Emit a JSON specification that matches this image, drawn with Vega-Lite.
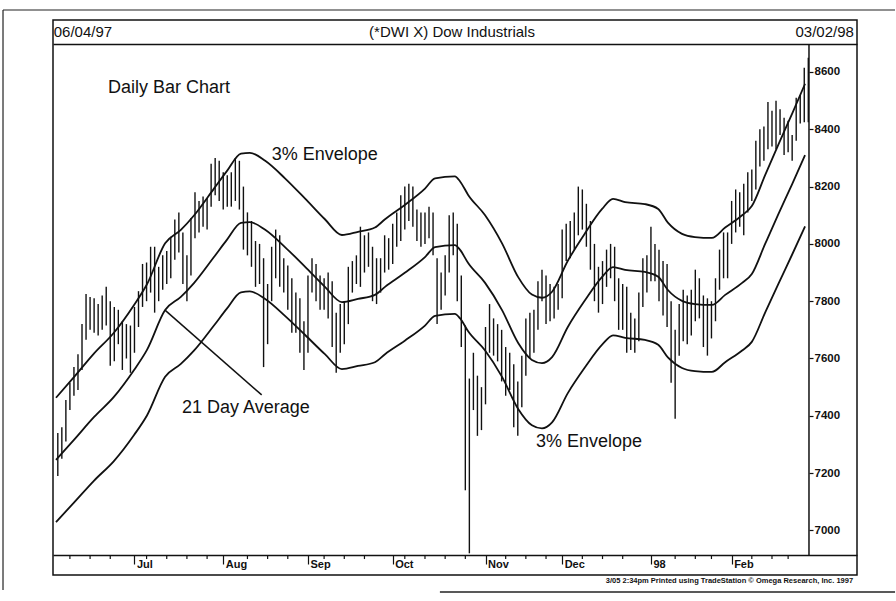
{
  "$schema": "https://vega.github.io/schema/vega-lite/v6.json",
  "width": 804,
  "height": 555,
  "autosize": {"type": "none"},
  "padding": {"left": 53, "top": 20, "right": 39, "bottom": 26},
  "background": "white",
  "config": {
    "view": {"stroke": "#111", "strokeWidth": 1.5},
    "font": "Liberation Sans",
    "text": {"color": "#111"},
    "axis": {"labelOverlap": false, "labelFlush": false}
  },
  "datasets": {
    "bars": [
      {"date":"1997-06-04","d":0,"hi":7340,"lo":7190},{"date":"1997-06-05","d":1,"hi":7360,"lo":7250},{"date":"1997-06-06","d":2,"hi":7455,"lo":7310},{"date":"1997-06-09","d":3,"hi":7515,"lo":7420},{"date":"1997-06-10","d":4,"hi":7570,"lo":7470},{"date":"1997-06-11","d":5,"hi":7615,"lo":7490},{"date":"1997-06-12","d":6,"hi":7720,"lo":7560},{"date":"1997-06-13","d":7,"hi":7825,"lo":7665},{"date":"1997-06-16","d":8,"hi":7815,"lo":7700},{"date":"1997-06-17","d":9,"hi":7810,"lo":7690},{"date":"1997-06-18","d":10,"hi":7790,"lo":7680},{"date":"1997-06-19","d":11,"hi":7820,"lo":7700},{"date":"1997-06-20","d":12,"hi":7850,"lo":7715},{"date":"1997-06-23","d":13,"hi":7800,"lo":7575},{"date":"1997-06-24","d":14,"hi":7780,"lo":7590},{"date":"1997-06-25","d":15,"hi":7770,"lo":7650},{"date":"1997-06-26","d":16,"hi":7730,"lo":7560},{"date":"1997-06-27","d":17,"hi":7720,"lo":7600},{"date":"1997-06-30","d":18,"hi":7715,"lo":7550},
      {"date":"1997-07-01","d":19,"hi":7780,"lo":7620},{"date":"1997-07-02","d":20,"hi":7835,"lo":7710},{"date":"1997-07-03","d":21,"hi":7930,"lo":7780},{"date":"1997-07-07","d":22,"hi":7935,"lo":7800},{"date":"1997-07-08","d":23,"hi":7990,"lo":7830},{"date":"1997-07-09","d":24,"hi":7990,"lo":7760},{"date":"1997-07-10","d":25,"hi":7920,"lo":7800},{"date":"1997-07-11","d":26,"hi":7960,"lo":7840},{"date":"1997-07-14","d":27,"hi":7975,"lo":7860},{"date":"1997-07-15","d":28,"hi":8025,"lo":7880},{"date":"1997-07-16","d":29,"hi":8085,"lo":7945},{"date":"1997-07-17","d":30,"hi":8110,"lo":7970},{"date":"1997-07-18","d":31,"hi":8040,"lo":7860},{"date":"1997-07-21","d":32,"hi":7960,"lo":7800},{"date":"1997-07-22","d":33,"hi":8090,"lo":7890},{"date":"1997-07-23","d":34,"hi":8180,"lo":8020},{"date":"1997-07-24","d":35,"hi":8150,"lo":8040},{"date":"1997-07-25","d":36,"hi":8165,"lo":8060},{"date":"1997-07-28","d":37,"hi":8160,"lo":8050},{"date":"1997-07-29","d":38,"hi":8280,"lo":8130},{"date":"1997-07-30","d":39,"hi":8300,"lo":8170},{"date":"1997-07-31","d":40,"hi":8290,"lo":8150},
      {"date":"1997-08-01","d":41,"hi":8250,"lo":8120},{"date":"1997-08-04","d":42,"hi":8240,"lo":8130},{"date":"1997-08-05","d":43,"hi":8250,"lo":8130},{"date":"1997-08-06","d":44,"hi":8300,"lo":8150},{"date":"1997-08-07","d":45,"hi":8290,"lo":8120},{"date":"1997-08-08","d":46,"hi":8200,"lo":7980},{"date":"1997-08-11","d":47,"hi":8110,"lo":7960},{"date":"1997-08-12","d":48,"hi":8080,"lo":7920},{"date":"1997-08-13","d":49,"hi":8010,"lo":7850},{"date":"1997-08-14","d":50,"hi":8000,"lo":7860},{"date":"1997-08-15","d":51,"hi":7950,"lo":7570},{"date":"1997-08-18","d":52,"hi":7860,"lo":7650},{"date":"1997-08-19","d":53,"hi":7990,"lo":7800},{"date":"1997-08-20","d":54,"hi":8050,"lo":7880},{"date":"1997-08-21","d":55,"hi":8030,"lo":7850},{"date":"1997-08-22","d":56,"hi":7950,"lo":7830},{"date":"1997-08-25","d":57,"hi":7925,"lo":7770},{"date":"1997-08-26","d":58,"hi":7880,"lo":7690},{"date":"1997-08-27","d":59,"hi":7830,"lo":7690},{"date":"1997-08-28","d":60,"hi":7810,"lo":7620},{"date":"1997-08-29","d":61,"hi":7730,"lo":7560},
      {"date":"1997-09-02","d":62,"hi":7890,"lo":7620},{"date":"1997-09-03","d":63,"hi":7950,"lo":7830},{"date":"1997-09-04","d":64,"hi":7930,"lo":7800},{"date":"1997-09-05","d":65,"hi":7890,"lo":7770},{"date":"1997-09-08","d":66,"hi":7880,"lo":7770},{"date":"1997-09-09","d":67,"hi":7900,"lo":7740},{"date":"1997-09-10","d":68,"hi":7870,"lo":7640},{"date":"1997-09-11","d":69,"hi":7760,"lo":7550},{"date":"1997-09-12","d":70,"hi":7790,"lo":7620},{"date":"1997-09-15","d":71,"hi":7800,"lo":7650},{"date":"1997-09-16","d":72,"hi":7920,"lo":7720},{"date":"1997-09-17","d":73,"hi":7940,"lo":7830},{"date":"1997-09-18","d":74,"hi":7960,"lo":7860},{"date":"1997-09-19","d":75,"hi":8060,"lo":7850},{"date":"1997-09-22","d":76,"hi":8030,"lo":7900},{"date":"1997-09-23","d":77,"hi":8040,"lo":7920},{"date":"1997-09-24","d":78,"hi":7990,"lo":7800},{"date":"1997-09-25","d":79,"hi":7950,"lo":7790},{"date":"1997-09-26","d":80,"hi":7950,"lo":7830},{"date":"1997-09-29","d":81,"hi":8030,"lo":7900},{"date":"1997-09-30","d":82,"hi":8020,"lo":7910},
      {"date":"1997-10-01","d":83,"hi":8070,"lo":7930},{"date":"1997-10-02","d":84,"hi":8110,"lo":7990},{"date":"1997-10-03","d":85,"hi":8170,"lo":8010},{"date":"1997-10-06","d":86,"hi":8200,"lo":8050},{"date":"1997-10-07","d":87,"hi":8210,"lo":8080},{"date":"1997-10-08","d":88,"hi":8200,"lo":8060},{"date":"1997-10-09","d":89,"hi":8120,"lo":8010},{"date":"1997-10-10","d":90,"hi":8110,"lo":7990},{"date":"1997-10-13","d":91,"hi":8110,"lo":8000},{"date":"1997-10-14","d":92,"hi":8130,"lo":8020},{"date":"1997-10-15","d":93,"hi":8110,"lo":7960},{"date":"1997-10-16","d":94,"hi":7950,"lo":7720},{"date":"1997-10-17","d":95,"hi":7900,"lo":7770},{"date":"1997-10-20","d":96,"hi":7960,"lo":7820},{"date":"1997-10-21","d":97,"hi":8100,"lo":7900},{"date":"1997-10-22","d":98,"hi":8110,"lo":7960},{"date":"1997-10-23","d":99,"hi":8070,"lo":7800},{"date":"1997-10-24","d":100,"hi":7890,"lo":7640},{"date":"1997-10-27","d":101,"hi":7715,"lo":7140},{"date":"1997-10-28","d":102,"hi":7530,"lo":6920},{"date":"1997-10-29","d":103,"hi":7620,"lo":7420},{"date":"1997-10-30","d":104,"hi":7540,"lo":7330},{"date":"1997-10-31","d":105,"hi":7500,"lo":7350},
      {"date":"1997-11-03","d":106,"hi":7710,"lo":7440},{"date":"1997-11-04","d":107,"hi":7790,"lo":7620},{"date":"1997-11-05","d":108,"hi":7740,"lo":7610},{"date":"1997-11-06","d":109,"hi":7720,"lo":7590},{"date":"1997-11-07","d":110,"hi":7700,"lo":7520},{"date":"1997-11-10","d":111,"hi":7640,"lo":7470},{"date":"1997-11-11","d":112,"hi":7620,"lo":7490},{"date":"1997-11-12","d":113,"hi":7580,"lo":7360},{"date":"1997-11-13","d":114,"hi":7520,"lo":7330},{"date":"1997-11-14","d":115,"hi":7610,"lo":7430},{"date":"1997-11-17","d":116,"hi":7740,"lo":7540},{"date":"1997-11-18","d":117,"hi":7760,"lo":7600},{"date":"1997-11-19","d":118,"hi":7770,"lo":7620},{"date":"1997-11-20","d":119,"hi":7870,"lo":7700},{"date":"1997-11-21","d":120,"hi":7910,"lo":7800},{"date":"1997-11-24","d":121,"hi":7890,"lo":7720},{"date":"1997-11-25","d":122,"hi":7860,"lo":7730},{"date":"1997-11-26","d":123,"hi":7850,"lo":7740},{"date":"1997-11-28","d":124,"hi":7860,"lo":7770},
      {"date":"1997-12-01","d":125,"hi":8050,"lo":7810},{"date":"1997-12-02","d":126,"hi":8070,"lo":7940},{"date":"1997-12-03","d":127,"hi":8080,"lo":7950},{"date":"1997-12-04","d":128,"hi":8110,"lo":7980},{"date":"1997-12-05","d":129,"hi":8200,"lo":8030},{"date":"1997-12-08","d":130,"hi":8190,"lo":8050},{"date":"1997-12-09","d":131,"hi":8140,"lo":7990},{"date":"1997-12-10","d":132,"hi":8080,"lo":7910},{"date":"1997-12-11","d":133,"hi":8000,"lo":7800},{"date":"1997-12-12","d":134,"hi":7920,"lo":7760},{"date":"1997-12-15","d":135,"hi":7940,"lo":7790},{"date":"1997-12-16","d":136,"hi":7980,"lo":7850},{"date":"1997-12-17","d":137,"hi":8000,"lo":7880},{"date":"1997-12-18","d":138,"hi":7990,"lo":7800},{"date":"1997-12-19","d":139,"hi":7880,"lo":7700},{"date":"1997-12-22","d":140,"hi":7860,"lo":7700},{"date":"1997-12-23","d":141,"hi":7850,"lo":7620},{"date":"1997-12-24","d":142,"hi":7760,"lo":7630},{"date":"1997-12-26","d":143,"hi":7740,"lo":7620},{"date":"1997-12-29","d":144,"hi":7830,"lo":7660},{"date":"1997-12-30","d":145,"hi":7950,"lo":7780},{"date":"1997-12-31","d":146,"hi":7960,"lo":7830},
      {"date":"1998-01-02","d":147,"hi":8060,"lo":7870},{"date":"1998-01-05","d":148,"hi":8000,"lo":7870},{"date":"1998-01-06","d":149,"hi":7980,"lo":7800},{"date":"1998-01-07","d":150,"hi":7940,"lo":7750},{"date":"1998-01-08","d":151,"hi":7930,"lo":7710},{"date":"1998-01-09","d":152,"hi":7800,"lo":7515},{"date":"1998-01-12","d":153,"hi":7700,"lo":7390},{"date":"1998-01-13","d":154,"hi":7790,"lo":7610},{"date":"1998-01-14","d":155,"hi":7840,"lo":7660},{"date":"1998-01-15","d":156,"hi":7820,"lo":7650},{"date":"1998-01-16","d":157,"hi":7840,"lo":7680},{"date":"1998-01-20","d":158,"hi":7910,"lo":7730},{"date":"1998-01-21","d":159,"hi":7880,"lo":7740},{"date":"1998-01-22","d":160,"hi":7820,"lo":7640},{"date":"1998-01-23","d":161,"hi":7810,"lo":7610},{"date":"1998-01-26","d":162,"hi":7800,"lo":7670},{"date":"1998-01-27","d":163,"hi":7880,"lo":7730},{"date":"1998-01-28","d":164,"hi":7980,"lo":7840},{"date":"1998-01-29","d":165,"hi":8040,"lo":7880},{"date":"1998-01-30","d":166,"hi":8040,"lo":7880},
      {"date":"1998-02-02","d":167,"hi":8150,"lo":8000},{"date":"1998-02-03","d":168,"hi":8190,"lo":8040},{"date":"1998-02-04","d":169,"hi":8180,"lo":8060},{"date":"1998-02-05","d":170,"hi":8210,"lo":8030},{"date":"1998-02-06","d":171,"hi":8250,"lo":8110},{"date":"1998-02-09","d":172,"hi":8260,"lo":8150},{"date":"1998-02-10","d":173,"hi":8360,"lo":8190},{"date":"1998-02-11","d":174,"hi":8400,"lo":8270},{"date":"1998-02-12","d":175,"hi":8410,"lo":8290},{"date":"1998-02-13","d":176,"hi":8495,"lo":8330},{"date":"1998-02-17","d":177,"hi":8465,"lo":8340},{"date":"1998-02-18","d":178,"hi":8500,"lo":8330},{"date":"1998-02-19","d":179,"hi":8470,"lo":8380},{"date":"1998-02-20","d":180,"hi":8440,"lo":8310},{"date":"1998-02-23","d":181,"hi":8430,"lo":8320},{"date":"1998-02-24","d":182,"hi":8380,"lo":8290},{"date":"1998-02-25","d":183,"hi":8510,"lo":8360},{"date":"1998-02-26","d":184,"hi":8520,"lo":8420},{"date":"1998-02-27","d":185,"hi":8615,"lo":8425},
      {"date":"1998-03-02","d":186,"hi":8650,"lo":8425}
    ],
    "env": [
      {"d":-0.45,"ma":7246,"up":7463,"dn":7029},{"d":4.0,"ma":7316,"up":7535,"dn":7097},{"d":9.0,"ma":7396,"up":7618,"dn":7174},{"d":13.9,"ma":7466,"up":7690,"dn":7242},{"d":18.9,"ma":7560,"up":7787,"dn":7333},{"d":22.1,"ma":7630,"up":7859,"dn":7401},{"d":26.6,"ma":7769,"up":8002,"dn":7536},{"d":30.5,"ma":7815,"up":8049,"dn":7581},{"d":33.8,"ma":7864,"up":8100,"dn":7628},{"d":38.7,"ma":7954,"up":8193,"dn":7715},{"d":41.9,"ma":8014,"up":8254,"dn":7774},{"d":45.4,"ma":8073,"up":8315,"dn":7831},{"d":47.6,"ma":8076,"up":8318,"dn":7834},{"d":51.4,"ma":8049,"up":8290,"dn":7808},{"d":56.3,"ma":7989,"up":8229,"dn":7749},{"d":61.3,"ma":7920,"up":8158,"dn":7682},{"d":66.2,"ma":7850,"up":8086,"dn":7615},{"d":70.4,"ma":7797,"up":8031,"dn":7563},{"d":74.4,"ma":7808,"up":8042,"dn":7574},{"d":78.6,"ma":7822,"up":8057,"dn":7587},{"d":81.1,"ma":7850,"up":8086,"dn":7615},{"d":86.0,"ma":7899,"up":8136,"dn":7662},{"d":91.0,"ma":7954,"up":8193,"dn":7715},{"d":93.5,"ma":7989,"up":8229,"dn":7749},{"d":98.4,"ma":7996,"up":8236,"dn":7756},{"d":99.7,"ma":7979,"up":8218,"dn":7740},{"d":101.7,"ma":7933,"up":8171,"dn":7695},{"d":105.9,"ma":7864,"up":8100,"dn":7628},{"d":110.1,"ma":7769,"up":8002,"dn":7536},{"d":114.1,"ma":7654,"up":7884,"dn":7424},{"d":117.5,"ma":7595,"up":7823,"dn":7367},{"d":120.0,"ma":7584,"up":7812,"dn":7356},{"d":122.5,"ma":7605,"up":7833,"dn":7377},{"d":126.4,"ma":7710,"up":7941,"dn":7479},{"d":130.7,"ma":7804,"up":8038,"dn":7570},{"d":134.9,"ma":7885,"up":8122,"dn":7648},{"d":137.6,"ma":7919,"up":8157,"dn":7681},{"d":140.6,"ma":7909,"up":8146,"dn":7672},{"d":145.5,"ma":7902,"up":8139,"dn":7665},{"d":148.8,"ma":7885,"up":8122,"dn":7648},{"d":151.2,"ma":7839,"up":8074,"dn":7604},{"d":154.7,"ma":7801,"up":8035,"dn":7567},{"d":157.9,"ma":7790,"up":8024,"dn":7556},{"d":162.1,"ma":7787,"up":8021,"dn":7553},{"d":165.4,"ma":7822,"up":8057,"dn":7587},{"d":169.6,"ma":7864,"up":8100,"dn":7628},{"d":172.0,"ma":7895,"up":8132,"dn":7658},{"d":175.3,"ma":8000,"up":8240,"dn":7760},{"d":178.5,"ma":8101,"up":8344,"dn":7858},{"d":182.0,"ma":8209,"up":8455,"dn":7963},{"d":185.2,"ma":8310,"up":8559,"dn":8061}
    ],
    "wk": [
      {"d":3},{"d":8},{"d":13},{"d":22},{"d":27},{"d":32},{"d":37},{"d":47},{"d":52},{"d":57},{"d":66},{"d":71},{"d":76},{"d":86},{"d":91},{"d":96},{"d":101},{"d":111},{"d":116},{"d":121},{"d":130},{"d":135},{"d":140},{"d":153},{"d":158},{"d":162},{"d":172},{"d":177},{"d":181}
    ],
    "one": [{}]
  },
  "layer": [
    {
      "data": {"name": "bars"},
      "mark": {"type": "rule", "color": "#111", "strokeWidth": 1.4},
      "encoding": {
        "x": {
          "field": "d", "type": "quantitative", "title": null,
          "scale": {"domain": [-1.19, 198.07], "nice": false, "zero": false},
          "axis": {
            "orient": "bottom", "offset": -20, "title": null,
            "values": [19,41,62,83,106,125,147,167],
            "domain": true, "domainColor": "#111", "domainWidth": 1.5,
            "ticks": true, "tickColor": "#111", "tickWidth": 1.2, "tickSize": 9,
            "labelExpr": "datum.value == 19 ? 'Jul' : datum.value == 41 ? 'Aug' : datum.value == 62 ? 'Sep' : datum.value == 83 ? 'Oct' : datum.value == 106 ? 'Nov' : datum.value == 125 ? 'Dec' : datum.value == 147 ? '98' : 'Feb'",
            "labelAlign": "left", "labelBaseline": "top", "labelOffset": 2, "labelPadding": -6,
            "labelFont": "Liberation Sans", "labelFontSize": 11, "labelFontWeight": "bold", "labelColor": "#111",
            "labelOverlap": false, "labelFlush": false, "grid": false
          }
        },
        "y": {
          "field": "hi", "type": "quantitative", "title": null,
          "scale": {"domain": [6844.3, 8781.5], "nice": false, "zero": false},
          "axis": {
            "orient": "right", "offset": -48, "title": null,
            "values": [7000,7200,7400,7600,7800,8000,8200,8400,8600,8697.7],
            "format": "d",
            "domain": false,
            "ticks": true, "tickColor": "#111", "tickWidth": 1.2, "tickSize": 4,
            "tickOpacity": {"condition": {"test": "datum.value > 8650", "value": 0}, "value": 1},
            "grid": true, "gridColor": "#111", "gridWidth": 1.5,
            "gridOpacity": {"condition": {"test": "datum.value > 8650", "value": 1}, "value": 0},
            "labelExpr": "datum.value > 8650 ? '' : datum.label",
            "labelFont": "Liberation Sans", "labelFontSize": 11.5, "labelFontWeight": "bold", "labelColor": "#111", "labelPadding": 1,
            "labelOverlap": false, "labelFlush": false
          }
        },
        "y2": {"field": "lo"}
      }
    },
    {
      "data": {"name": "wk"},
      "mark": {"type": "rule", "color": "#111", "strokeWidth": 1.2},
      "encoding": {"x": {"field": "d", "type": "quantitative", "title": null}, "y": {"datum": 6914, "title": null}, "y2": {"datum": 6900}}
    },
    {
      "data": {"name": "env"},
      "mark": {"type": "line", "color": "#111", "strokeWidth": 1.8, "interpolate": "monotone"},
      "encoding": {"x": {"field": "d", "type": "quantitative", "title": null}, "y": {"field": "ma", "type": "quantitative", "title": null}}
    },
    {
      "data": {"name": "env"},
      "mark": {"type": "line", "color": "#111", "strokeWidth": 1.8, "interpolate": "monotone"},
      "encoding": {"x": {"field": "d", "type": "quantitative", "title": null}, "y": {"field": "up", "type": "quantitative", "title": null}}
    },
    {
      "data": {"name": "env"},
      "mark": {"type": "line", "color": "#111", "strokeWidth": 1.8, "interpolate": "monotone"},
      "encoding": {"x": {"field": "d", "type": "quantitative", "title": null}, "y": {"field": "dn", "type": "quantitative", "title": null}}
    },
    {
      "data": {"name": "one"},
      "mark": {"type": "rule", "color": "#111", "strokeWidth": 1.5},
      "encoding": {"x": {"datum": 26.57, "title": null}, "y": {"datum": 7769, "title": null}, "x2": {"datum": 50.53}, "y2": {"datum": 7473}}
    },
    {
      "data": {"name": "one"},
      "mark": {"type": "rule", "color": "#111", "strokeWidth": 1.5},
      "encoding": {"x": {"datum": 186.17, "title": null}, "y": {"datum": 6914, "title": null}, "y2": {"datum": 8697.7}}
    },
    {
      "data": {"name": "one"},
      "mark": {"type": "rule", "color": "#222", "strokeWidth": 1.2},
      "encoding": {"x": {"datum": -13.58, "title": null}, "y": {"datum": 8816.4, "title": null}, "x2": {"datum": 207.5}}
    },
    {
      "data": {"name": "one"},
      "mark": {"type": "rule", "color": "#222", "strokeWidth": 1.2},
      "encoding": {"x": {"datum": -13.58, "title": null}, "y": {"datum": 8816.4, "title": null}, "y2": {"datum": 6792}}
    },
    {
      "data": {"name": "one"},
      "mark": {"type": "rule", "color": "#222", "strokeWidth": 1.5},
      "encoding": {"x": {"datum": 94.7, "title": null}, "y": {"datum": 6785, "title": null}, "x2": {"datum": 207.5}}
    },
    {
      "data": {"name": "one"},
      "mark": {"type": "text", "align": "left", "baseline": "middle", "fontSize": 18, "font": "Liberation Sans"},
      "encoding": {"x": {"datum": 12.44, "title": null}, "y": {"datum": 8544, "title": null}, "text": {"value": "Daily Bar Chart"}}
    },
    {
      "data": {"name": "one"},
      "mark": {"type": "text", "align": "left", "baseline": "middle", "fontSize": 18, "font": "Liberation Sans"},
      "encoding": {"x": {"datum": 53.0, "title": null}, "y": {"datum": 8310, "title": null}, "text": {"value": "3% Envelope"}}
    },
    {
      "data": {"name": "one"},
      "mark": {"type": "text", "align": "left", "baseline": "middle", "fontSize": 18, "font": "Liberation Sans"},
      "encoding": {"x": {"datum": 30.78, "title": null}, "y": {"datum": 7427, "title": null}, "text": {"value": "21 Day Average"}}
    },
    {
      "data": {"name": "one"},
      "mark": {"type": "text", "align": "left", "baseline": "middle", "fontSize": 18, "font": "Liberation Sans"},
      "encoding": {"x": {"datum": 118.5, "title": null}, "y": {"datum": 7309, "title": null}, "text": {"value": "3% Envelope"}}
    },
    {
      "data": {"name": "one"},
      "mark": {"type": "text", "align": "left", "baseline": "middle", "fontSize": 15, "font": "Liberation Sans"},
      "encoding": {"x": {"datum": -1.0, "title": null}, "y": {"datum": 8739.6, "title": null}, "text": {"value": "06/04/97"}}
    },
    {
      "data": {"name": "one"},
      "mark": {"type": "text", "align": "center", "baseline": "middle", "fontSize": 15, "font": "Liberation Sans"},
      "encoding": {"x": {"datum": 97.7, "title": null}, "y": {"datum": 8739.6, "title": null}, "text": {"value": "(*DWI X) Dow Industrials"}}
    },
    {
      "data": {"name": "one"},
      "mark": {"type": "text", "align": "right", "baseline": "middle", "fontSize": 15, "font": "Liberation Sans"},
      "encoding": {"x": {"datum": 197.3, "title": null}, "y": {"datum": 8739.6, "title": null}, "text": {"value": "03/02/98"}}
    },
    {
      "data": {"name": "one"},
      "mark": {"type": "text", "align": "right", "baseline": "middle", "fontSize": 7.5, "fontWeight": "bold", "font": "Liberation Sans"},
      "encoding": {"x": {"datum": 197.1, "title": null}, "y": {"datum": 6823.4, "title": null}, "text": {"value": "3/05  2:34pm Printed using TradeStation © Omega Research, Inc. 1997"}}
    }
  ]
}
